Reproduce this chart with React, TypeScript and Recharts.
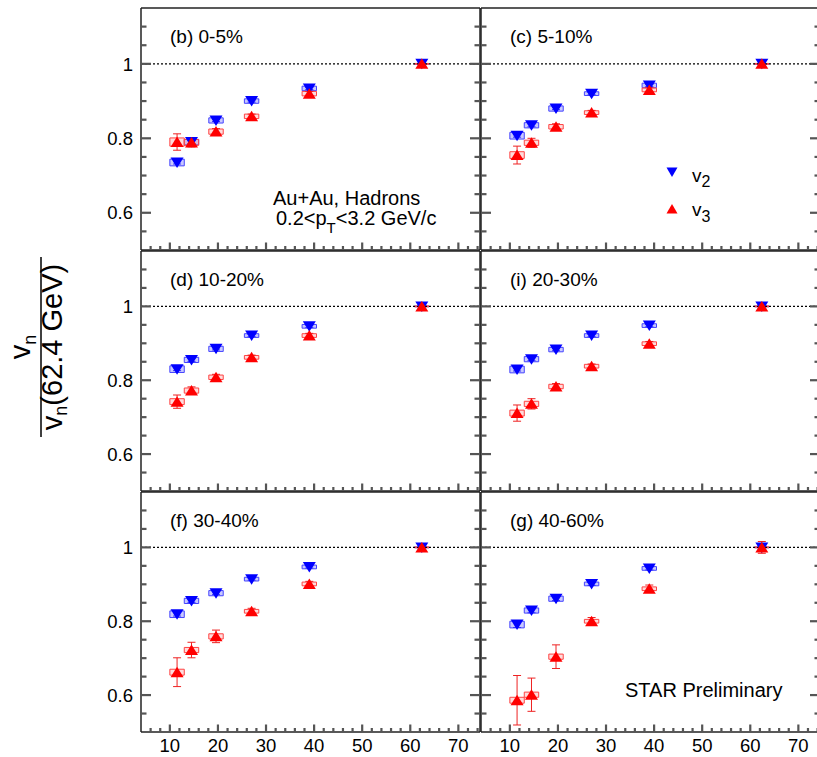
import { ScatterChart, Scatter, XAxis, YAxis, ReferenceLine, ReferenceArea, ErrorBar } from 'recharts';

// Beam energies (GeV) and v_n ratios relative to 62.4 GeV, one row per centrality panel
const ENERGIES = [11.5, 14.5, 19.6, 27, 39, 62.4];

const PANEL_LABELS = ['(b) 0-5%', '(c) 5-10%', '(d) 10-20%', '(i) 20-30%', '(f) 30-40%', '(g) 40-60%'];

const V2_RATIO = [
  [0.735, 0.79, 0.848, 0.9, 0.934, 1],
  [0.807, 0.835, 0.88, 0.92, 0.942, 1],
  [0.83, 0.855, 0.885, 0.921, 0.946, 1],
  [0.829, 0.857, 0.883, 0.921, 0.948, 1],
  [0.819, 0.855, 0.876, 0.914, 0.947, 1],
  [0.791, 0.829, 0.861, 0.901, 0.943, 1],
];

const V3_RATIO = [
  [0.79, 0.789, 0.818, 0.859, 0.92, 1],
  [0.755, 0.788, 0.831, 0.869, 0.93, 1],
  [0.742, 0.772, 0.808, 0.862, 0.921, 1],
  [0.711, 0.736, 0.783, 0.838, 0.899, 1],
  [0.662, 0.722, 0.759, 0.827, 0.901, 1],
  [0.586, 0.601, 0.704, 0.8, 0.888, 1],
];

// statistical errors
const V2_STAT = [
  [0.004, 0.004, 0.003, 0.003, 0.003, 0.004],
  [0.004, 0.004, 0.003, 0.003, 0.003, 0.004],
  [0.004, 0.004, 0.003, 0.003, 0.003, 0.004],
  [0.004, 0.004, 0.003, 0.003, 0.003, 0.004],
  [0.005, 0.004, 0.004, 0.003, 0.003, 0.004],
  [0.008, 0.006, 0.005, 0.004, 0.004, 0.006],
];

const V3_STAT = [
  [0.022, 0.012, 0.008, 0.006, 0.006, 0.008],
  [0.024, 0.012, 0.008, 0.006, 0.006, 0.008],
  [0.018, 0.01, 0.008, 0.006, 0.006, 0.008],
  [0.022, 0.014, 0.008, 0.006, 0.006, 0.008],
  [0.039, 0.021, 0.017, 0.008, 0.007, 0.01],
  [0.067, 0.045, 0.032, 0.01, 0.01, 0.016],
];

// systematic errors (boxes)
const V2_SYS = [
  [0.009, 0.007, 0.007, 0.006, 0.006, 0.001],
  [0.009, 0.007, 0.007, 0.005, 0.006, 0.001],
  [0.009, 0.007, 0.007, 0.005, 0.005, 0.001],
  [0.009, 0.007, 0.006, 0.005, 0.005, 0.001],
  [0.009, 0.007, 0.007, 0.005, 0.005, 0.001],
  [0.009, 0.007, 0.007, 0.005, 0.005, 0.001],
];

const V3_SYS = [
  [0.011, 0.008, 0.007, 0.006, 0.006, 0.001],
  [0.009, 0.007, 0.006, 0.005, 0.005, 0.001],
  [0.008, 0.007, 0.006, 0.005, 0.005, 0.001],
  [0.008, 0.007, 0.006, 0.005, 0.005, 0.001],
  [0.008, 0.007, 0.007, 0.005, 0.005, 0.001],
  [0.008, 0.007, 0.007, 0.005, 0.005, 0.001],
];

const X_DOMAIN: [number, number] = [4, 74.5];
const Y_DOMAIN: [number, number] = [0.5, 1.15];
const X_TICKS = [6, 8, 10, 12, 14, 16, 18, 20, 22, 24, 26, 28, 30, 32, 34, 36, 38, 40, 42, 44, 46, 48, 50, 52, 54, 56, 58, 60, 62, 64, 66, 68, 70, 72, 74];
const Y_TICKS = [0.55, 0.6, 0.65, 0.7, 0.75, 0.8, 0.85, 0.9, 0.95, 1, 1.05, 1.1];
const Y_MAJOR = [0.6, 0.8, 1];

// layout (plot frames)
const COL_X = [141, 481];
const ROW_Y = [8, 251, 492];
const PLOT_W = 339;
const PLOT_H = [242, 240, 240];
const ML = 50, MR = 10, MT = 10, MB = 30;
const AX = 1; // axis band size; axes with zero size are skipped by recharts
const BOX_HW = 1.5;

const FONT = '"Liberation Sans", Arial, Helvetica, sans-serif';
const TICK_COLOR = '#555';
const TICK_W = 2.2;
const AXIS_LINE = { stroke: '#222', strokeWidth: 1.5 };

const fmtY = (v: number) => (v === 1 ? '1' : String(v));

function downTriangle(props: any) {
  const { cx, cy } = props;
  return <path d={`M${cx - 6.5},${cy - 5}L${cx + 6.5},${cy - 5}L${cx},${cy + 5.5}Z`} fill="#0000ff" />;
}

function upTriangle(props: any) {
  const { cx, cy } = props;
  return <path d={`M${cx - 6.5},${cy + 5}L${cx + 6.5},${cy + 5}L${cx},${cy - 5.5}Z`} fill="#ff0000" />;
}

function Panel({ idx }: { idx: number }) {
  const col = idx % 2;
  const row = Math.floor(idx / 2);
  const h = PLOT_H[row];
  const showY = col === 0;
  const showX = row === 2;

  const v2 = ENERGIES.map((x, i) => ({ x, y: V2_RATIO[idx][i], err: V2_STAT[idx][i] }));
  const v3 = ENERGIES.map((x, i) => ({ x, y: V3_RATIO[idx][i], err: V3_STAT[idx][i] }));

  // ticks point into the frame, ROOT style
  const xTick = (side: 'bottom' | 'top') => (p: any) => {
    const v = p.payload.value;
    const x = Number(p.x);
    const y = Number(p.y);
    const major = v % 10 === 0;
    const len = major ? 7.5 : 4;
    const y0 = side === 'bottom' ? y - len : y;
    return (
      <g>
        <rect x={x - TICK_W / 2} y={y0} width={TICK_W} height={len} fill={TICK_COLOR} />
        {side === 'bottom' && showX && major && (
          <text x={x} y={y + 20} textAnchor="middle" fontSize={18.5} fontFamily={FONT} fill="#000">
            {v}
          </text>
        )}
      </g>
    );
  };

  const yTick = (side: 'left' | 'right') => (p: any) => {
    const v = p.payload.value;
    const x = Number(p.x);
    const y = Number(p.y);
    const major = Y_MAJOR.some((m) => Math.abs(m - v) < 1e-6);
    const len = major ? 10 : 5.5;
    const x0 = side === 'left' ? x : x - len;
    return (
      <g>
        <rect x={x0} y={y - TICK_W / 2} width={len} height={TICK_W} fill={TICK_COLOR} />
        {side === 'left' && showY && major && (
          <text x={x - 8} y={y} dy="0.36em" textAnchor="end" fontSize={18.5} fontFamily={FONT} fill="#000">
            {fmtY(v)}
          </text>
        )}
      </g>
    );
  };

  return (
    <div style={{ position: 'absolute', left: COL_X[col] - ML - AX, top: ROW_Y[row] - MT - AX }}>
      <ScatterChart
        width={PLOT_W + ML + MR + 2 * AX}
        height={h + MT + MB + 2 * AX}
        margin={{ top: MT, right: MR, bottom: MB, left: ML }}
      >
        <XAxis
          type="number"
          dataKey="x"
          domain={X_DOMAIN}
          allowDataOverflow
          ticks={X_TICKS}
          interval={0}
          tickSize={0}
          tickMargin={0}
          height={AX}
          axisLine={AXIS_LINE}
          tickLine={false}
          tick={xTick('bottom')}
        />
        <XAxis
          xAxisId="top"
          orientation="top"
          type="number"
          domain={X_DOMAIN}
          allowDataOverflow
          ticks={X_TICKS}
          interval={0}
          tickSize={0}
          tickMargin={0}
          height={AX}
          axisLine={AXIS_LINE}
          tickLine={false}
          tick={xTick('top')}
        />
        <YAxis
          type="number"
          dataKey="y"
          domain={Y_DOMAIN}
          allowDataOverflow
          ticks={Y_TICKS}
          interval={0}
          tickSize={0}
          tickMargin={0}
          width={AX}
          axisLine={AXIS_LINE}
          tickLine={false}
          tick={yTick('left')}
        />
        <YAxis
          yAxisId="right"
          orientation="right"
          type="number"
          domain={Y_DOMAIN}
          allowDataOverflow
          ticks={Y_TICKS}
          interval={0}
          tickSize={0}
          tickMargin={0}
          width={AX}
          axisLine={AXIS_LINE}
          tickLine={false}
          tick={yTick('right')}
        />
        <ReferenceLine y={1} stroke="#000" strokeWidth={1.2} strokeDasharray="2 2" />
        {ENERGIES.map((x, i) => (
          <ReferenceArea
            key={'s2' + i}
            x1={x - BOX_HW}
            x2={x + BOX_HW}
            y1={V2_RATIO[idx][i] - V2_SYS[idx][i]}
            y2={V2_RATIO[idx][i] + V2_SYS[idx][i]}
            fill="#8888ff"
            fillOpacity={0.45}
            stroke="#4444ff"
            strokeWidth={1}
            ifOverflow="visible"
          />
        ))}
        {ENERGIES.map((x, i) => (
          <ReferenceArea
            key={'s3' + i}
            x1={x - BOX_HW}
            x2={x + BOX_HW}
            y1={V3_RATIO[idx][i] - V3_SYS[idx][i]}
            y2={V3_RATIO[idx][i] + V3_SYS[idx][i]}
            fill="#ff9999"
            fillOpacity={0.35}
            stroke="#ff4444"
            strokeWidth={1}
            ifOverflow="visible"
          />
        ))}
        <Scatter data={v2} shape={downTriangle} isAnimationActive={false}>
          <ErrorBar dataKey="err" direction="y" width={4} stroke="#3333ff" strokeWidth={1} />
        </Scatter>
        <Scatter data={v3} shape={upTriangle} isAnimationActive={false}>
          <ErrorBar dataKey="err" direction="y" width={4} stroke="#ee2222" strokeWidth={1} />
        </Scatter>
      </ScatterChart>
    </div>
  );
}

function Annotations() {
  return (
    <svg
      width={817}
      height={757}
      style={{ position: 'absolute', left: 0, top: 0, pointerEvents: 'none' }}
      fontFamily={FONT}
    >
      {PANEL_LABELS.map((label, i) => (
        <text key={label} x={COL_X[i % 2] + 29} y={ROW_Y[Math.floor(i / 2)] + 35} fontSize={19} fill="#000">
          {label}
        </text>
      ))}

      <text x={273} y={205} fontSize={20} fill="#000">Au+Au, Hadrons</text>
      <text x={276} y={225} fontSize={20} fill="#000">
        0.2&lt;p<tspan dy={7.5} fontSize={15}>T</tspan>
        <tspan dy={-7.5}>&lt;3.2 GeV/c</tspan>
      </text>

      <path d="M666.5,167.5L677.5,167.5L672,177Z" fill="#0000ff" />
      <text x={692} y={181.5} fontSize={19} fill="#000">
        v<tspan dy={5} fontSize={16}>2</tspan>
      </text>
      <path d="M666.5,213.5L677.5,213.5L672,204Z" fill="#ff0000" />
      <text x={692} y={215.5} fontSize={19} fill="#000">
        v<tspan dy={6} fontSize={16}>3</tspan>
      </text>

      <text x={625} y={697} fontSize={20} fill="#000">STAR Preliminary</text>

      <g transform="translate(41,347) rotate(-90)">
        <line x1={-90} x2={90} y1={0} y2={0} stroke="#000" strokeWidth={1.5} />
        <text x={0} y={-11} textAnchor="middle" fontSize={29} fill="#000">
          v<tspan dy={5.5} fontSize={18}>n</tspan>
        </text>
        <text x={0} y={21} textAnchor="middle" fontSize={29} fill="#000">
          v<tspan dy={5} fontSize={18}>n</tspan>
          <tspan dy={-5}>(62.4 GeV)</tspan>
        </text>
      </g>
    </svg>
  );
}

export default function App() {
  return (
    <div
      style={{
        position: 'absolute',
        left: 0,
        top: 0,
        width: 817,
        height: 757,
        overflow: 'hidden',
        background: '#fff',
      }}
    >
      {[0, 1, 2, 3, 4, 5].map((i) => (
        <Panel key={i} idx={i} />
      ))}
      <Annotations />
    </div>
  );
}
